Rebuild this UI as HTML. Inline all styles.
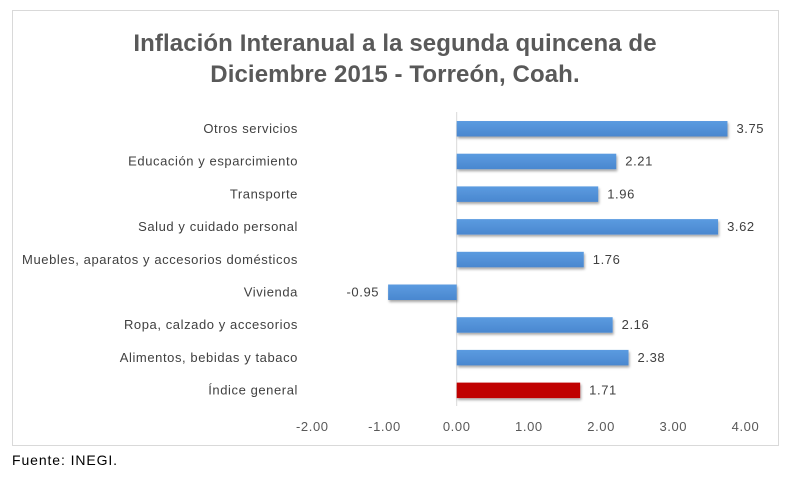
<!DOCTYPE html>
<html><head><meta charset="utf-8"><style>
body{margin:0;background:#fff;font-family:"Liberation Sans",sans-serif;}
svg text{font-family:"Liberation Sans",sans-serif;}
</style></head><body>
<svg width="792" height="478" xmlns="http://www.w3.org/2000/svg">
<defs><filter id="sh" x="-5%" y="-30%" width="110%" height="180%"><feDropShadow dx="1" dy="2" stdDeviation="1.2" flood-color="#000" flood-opacity="0.35"/></filter>
<linearGradient id="bl" x1="0" y1="0" x2="0" y2="1"><stop offset="0" stop-color="#5b9be0"/><stop offset="1" stop-color="#4a87cf"/></linearGradient></defs>
<rect x="12.5" y="10.5" width="766" height="435" fill="#fff" stroke="#d9d9d9"/>
<text x="395" y="51" text-anchor="middle" font-size="24" font-weight="bold" fill="#595959" letter-spacing="0.1">Inflación Interanual a la segunda quincena de</text>
<text x="395" y="82" text-anchor="middle" font-size="24" font-weight="bold" fill="#595959" letter-spacing="0.1">Diciembre 2015 - Torreón, Coah.</text>
<g id="plot"></g>
<text x="12" y="465" font-size="14" fill="#000" letter-spacing="0.9">Fuente:  INEGI.</text>
</svg>
<script>
const categories=["Otros servicios","Educación y esparcimiento","Transporte","Salud y cuidado personal","Muebles, aparatos y accesorios domésticos","Vivienda","Ropa, calzado y accesorios","Alimentos, bebidas y tabaco","Índice general"];
const values=[3.75,2.21,1.96,3.62,1.76,-0.95,2.16,2.38,1.71];
const labels=["3.75","2.21","1.96","3.62","1.76","-0.95","2.16","2.38","1.71"];
const ticks=[-2,-1,0,1,2,3,4];
const tickLabels=["-2.00","-1.00","0.00","1.00","2.00","3.00","4.00"];
const NS="http://www.w3.org/2000/svg";
const g=document.getElementById('plot');
const x=v=>456.7+v*72.2;
const y=i=>128.5+i*32.7;
function mk(t,a){const e=document.createElementNS(NS,t);for(const k in a)e.setAttribute(k,a[k]);g.appendChild(e);return e;}
const zl=mk('line',{x1:x(0),x2:x(0),y1:112,y2:406,stroke:'#d9d9d9'});


ticks.forEach((t,i)=>{
 const e=mk('text',{x:x(t),y:431,'text-anchor':'middle','font-size':13,fill:'#595959','letter-spacing':0.6});
 e.textContent=tickLabels[i];
 
 
});
categories.forEach((c,i)=>{
 const cy=y(i);
 const lab=mk('text',{x:298,y:cy+4.5,'text-anchor':'end','font-size':13,fill:'#404040','letter-spacing':0.58});
 lab.textContent=c;
 
 
 const v=values[i];
 const x0=Math.min(x(0),x(v)),w=Math.abs(x(v)-x(0));
 const b=mk('rect',{x:x0,y:cy-7.5,width:w,height:15.5,fill:i===8?'#c00000':'url(#bl)',filter:'url(#sh)'});
 
 
 const vl=mk('text',{x:v>=0?x(v)+9:x(v)-9,y:cy+4.5,'text-anchor':v>=0?'start':'end','font-size':13,fill:'#404040','letter-spacing':0.6});
 vl.textContent=labels[i];
 
 
});
</script>
</body></html>
